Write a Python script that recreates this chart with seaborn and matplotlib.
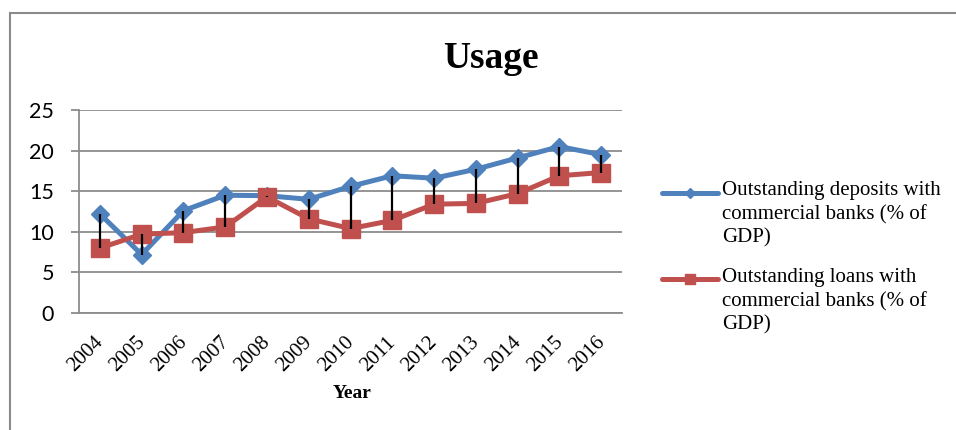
import matplotlib
matplotlib.use("Agg")
import matplotlib.pyplot as plt
import matplotlib.transforms as mtransforms
from matplotlib.lines import Line2D
from matplotlib.patches import Rectangle
import pandas as pd
import seaborn as sns

# ---- data -------------------------------------------------------------
years = [2004, 2005, 2006, 2007, 2008, 2009, 2010,
         2011, 2012, 2013, 2014, 2015, 2016]
deposits = [12.2, 7.2, 12.6, 14.5, 14.45, 14.0, 15.6,
            16.9, 16.6, 17.7, 19.1, 20.5, 19.5]
loans = [8.0, 9.7, 9.9, 10.6, 14.3, 11.6, 10.4,
         11.4, 13.4, 13.5, 14.7, 16.9, 17.3]
yticks = [0, 5, 10, 15, 20, 25]

dep_label = "Outstanding deposits with\ncommercial banks (% of\nGDP)"
loan_label = "Outstanding loans with\ncommercial banks (% of\nGDP)"
title = "Usage"
xlabel = "Year"

BLUE = "#4F81BD"
RED = "#C0504D"
GRID = "#8C8C8C"

# ---- styling ----------------------------------------------------------
sns.set_theme(style="white")
plt.rcParams["font.family"] = ["Liberation Serif", "DejaVu Serif"]

W, H = 956, 430
fig = plt.figure(figsize=(W / 100, H / 100), dpi=100, facecolor="white")
ax = fig.add_axes([79 / W, 1 - 313 / H, 543 / W, 203 / H])

dep_df = pd.DataFrame({"Year": years, "Value": deposits})
loan_df = pd.DataFrame({"Year": years, "Value": loans})

sns.lineplot(data=dep_df, x="Year", y="Value", ax=ax, color=BLUE,
             linewidth=3.6, marker="D", markersize=9.5,
             markeredgecolor=BLUE, markeredgewidth=1, zorder=3)
sns.lineplot(data=loan_df, x="Year", y="Value", ax=ax, color=RED,
             linewidth=3.6, marker="s", markersize=13.5,
             markeredgecolor=RED, markeredgewidth=1, zorder=4)

# high-low lines joining the two series in each year
ax.vlines(years, loans, deposits, colors="black", linewidth=1.6, zorder=5)

ax.set_xlim(years[0] - 0.5, years[-1] + 0.5)
ax.set_ylim(0, 25)
ax.set_yticks(yticks)
ax.set_xticks(years)
ax.set_xticklabels([str(y) for y in years])

ax.yaxis.grid(True, color=GRID, linewidth=1.3)
ax.xaxis.grid(False)
ax.set_axisbelow(True)
for side in ("top", "right"):
    ax.spines[side].set_visible(False)
for side in ("left", "bottom"):
    ax.spines[side].set_color(GRID)
    ax.spines[side].set_linewidth(1.3)

ax.tick_params(axis="y", left=True, length=6, width=1.3, color=GRID,
               pad=12, labelsize=15.5, labelcolor="black")
ax.tick_params(axis="x", bottom=False, length=0, pad=14.5,
               labelsize=15, labelcolor="black")
for lab in ax.get_yticklabels():
    lab.set_fontfamily(["Lato", "DejaVu Sans"])

shift = mtransforms.ScaledTranslation(-6 / 100, 0, fig.dpi_scale_trans)
for lab in ax.get_xticklabels():
    lab.set_rotation(45)
    lab.set_ha("right")
    lab.set_va("top")
    lab.set_rotation_mode("anchor")
    lab.set_transform(lab.get_transform() + shift)

ax.set_ylabel("")
ax.set_xlabel(xlabel, fontsize=14, fontweight="bold", color="black")
ax.xaxis.label.set_va("center")
ax.xaxis.set_label_coords((352 - 79) / 543, (313 - 393) / 203)

# ---- title ------------------------------------------------------------
fig.text(491 / W, 1 - 58 / H, title, ha="center", va="center",
         fontsize=27, fontweight="bold", color="black")

# ---- legend -----------------------------------------------------------
entries = [
    (dep_label, BLUE, "D", 5.5, 193, 181),
    (loan_label, RED, "s", 7.5, 279, 268),
]
for label, col, mk, ms, yc, ytop in entries:
    yf = 1 - yc / H
    fig.add_artist(Line2D([662 / W, 690 / W, 718 / W], [yf, yf, yf],
                          transform=fig.transFigure, color=col,
                          linewidth=3.6, marker=mk, markersize=ms,
                          markeredgecolor=col, markevery=[1]))
    fig.text(722 / W, 1 - ytop / H, label, ha="left", va="top",
             fontsize=15, linespacing=1.32, color="black")

# ---- chart area outline -----------------------------------------------
fig.add_artist(Rectangle((10 / W, -0.2), 2.0, 1 - 13 / H + 0.2,
                         transform=fig.transFigure, fill=False,
                         edgecolor="#8A8A8A", linewidth=1.5))

fig.savefig("out.png", dpi=100, facecolor="white")
